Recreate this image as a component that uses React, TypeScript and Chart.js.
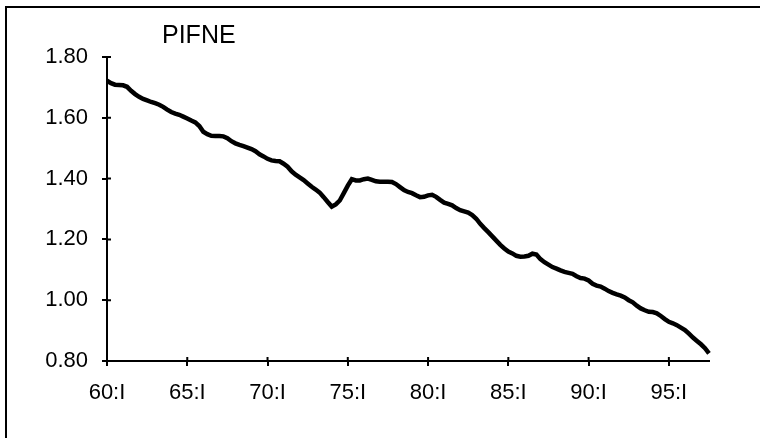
import React, { useEffect, useRef } from "react";
import { Chart, registerables } from "chart.js";

Chart.register(...registerables);

const TITLE = "PIFNE";
const quarterNames = ["I", "II", "III", "IV"];
const firstYear = 60;
const lastYear = 97;
const categories: string[] = [];
for (let y = firstYear; y <= lastYear; y++) {
  for (const q of quarterNames) categories.push(`${y}:${q}`);
}
const pifne: number[] = [
  1.722, 1.714, 1.709, 1.708, 1.707, 1.702, 1.689, 1.678, 1.669, 1.662,
  1.657, 1.652, 1.648, 1.643, 1.636, 1.627, 1.619, 1.614, 1.610, 1.604,
  1.598, 1.591, 1.585, 1.573, 1.554, 1.546, 1.541, 1.540, 1.540, 1.539,
  1.533, 1.523, 1.516, 1.511, 1.507, 1.502, 1.497, 1.490, 1.480, 1.473,
  1.465, 1.460, 1.458, 1.457, 1.449, 1.439, 1.424, 1.413, 1.404, 1.395,
  1.384, 1.373, 1.364, 1.354, 1.339, 1.323, 1.308, 1.315, 1.328, 1.352,
  1.377, 1.398, 1.394, 1.394, 1.398, 1.400, 1.396, 1.391, 1.390, 1.390,
  1.390, 1.389, 1.382, 1.372, 1.362, 1.356, 1.352, 1.345, 1.339, 1.340,
  1.345, 1.347, 1.340, 1.330, 1.321, 1.317, 1.312, 1.303, 1.296, 1.292,
  1.288, 1.280, 1.268, 1.251, 1.237, 1.224, 1.210, 1.196, 1.182, 1.170,
  1.160, 1.154, 1.146, 1.143, 1.144, 1.146, 1.153, 1.150, 1.135, 1.125,
  1.117, 1.109, 1.104, 1.098, 1.093, 1.090, 1.087, 1.079, 1.073, 1.071,
  1.065, 1.054, 1.048, 1.045, 1.038, 1.030, 1.024, 1.019, 1.015, 1.009,
  1.000, 0.993, 0.982, 0.973, 0.967, 0.962, 0.961, 0.957, 0.948, 0.938,
  0.929, 0.924, 0.918, 0.910, 0.902, 0.890, 0.877, 0.866, 0.855, 0.842,
  0.825,
];
const labels = categories.slice(0, pifne.length);
const xTickLabels = ["60:I", "65:I", "70:I", "75:I", "80:I", "85:I", "90:I", "95:I"];
const yMin = 0.8;
const yMax = 1.8;
const yStep = 0.2;

const FONT = "Arial, 'Liberation Sans', Helvetica, sans-serif";

const decorPlugin = {
  id: "decor",
  beforeDraw(chart: any) {
    const ctx = chart.ctx;
    ctx.save();
    ctx.strokeStyle = "#000";
    ctx.lineWidth = 2;
    ctx.beginPath();
    ctx.moveTo(6, 1000);
    ctx.lineTo(6, 7);
    ctx.lineTo(1000, 7);
    ctx.stroke();
    ctx.restore();
  },
  afterDraw(chart: any) {
    const ctx = chart.ctx;
    const { left, bottom, top } = chart.chartArea;
    const xs = chart.scales.x;
    const ys = chart.scales.y;
    ctx.save();
    ctx.strokeStyle = "#000";
    ctx.lineWidth = 2;
    ctx.beginPath();
    ys.ticks.forEach((t: any) => {
      const py = ys.getPixelForValue(t.value);
      ctx.moveTo(left, py);
      ctx.lineTo(left + 4, py);
    });
    xTickLabels.forEach((lab) => {
      const idx = labels.indexOf(lab);
      if (idx < 0) return;
      const px = xs.getPixelForValue(idx);
      ctx.moveTo(px, bottom);
      ctx.lineTo(px, bottom - 4);
    });
    ctx.stroke();
    ctx.fillStyle = "#000";
    ctx.font = `25px ${FONT}`;
    ctx.textAlign = "left";
    ctx.textBaseline = "middle";
    ctx.fillText(TITLE, left + 55, top - 21);
    ctx.restore();
  },
};

export default function App() {
  const ref = useRef<HTMLCanvasElement | null>(null);
  useEffect(() => {
    document.body.style.margin = "0";
    const canvas = ref.current!;
    const chart = new Chart(canvas, {
      type: "line",
      data: {
        labels,
        datasets: [
          {
            label: TITLE,
            data: pifne,
            borderColor: "#000",
            backgroundColor: "#000",
            borderWidth: 4.5,
            pointRadius: 0,
            tension: 0,
            fill: false,
          },
        ],
      },
      options: {
        animation: false,
        responsive: false,
        maintainAspectRatio: false,
        events: [],
        layout: { padding: { left: 0, top: 57, right: 51, bottom: 0 } },
        plugins: {
          legend: { display: false },
          tooltip: { enabled: false },
          title: { display: false },
        },
        scales: {
          x: {
            type: "category",
            offset: false,
            border: { display: true, color: "#000", width: 2 },
            grid: {
              display: true,
              drawOnChartArea: false,
              drawTicks: true,
              tickLength: 5,
              color: "#000",
              lineWidth: 2,
            },
            ticks: {
              autoSkip: false,
              maxRotation: 0,
              minRotation: 0,
              padding: 14,
              color: "#000",
              font: { family: FONT, size: 22 },
              callback: (_v: any, i: number) =>
                xTickLabels.includes(labels[i]) ? labels[i] : null,
            },
            afterFit: (s: any) => {
              s.height = 77;
            },
          },
          y: {
            min: yMin,
            max: yMax,
            border: { display: true, color: "#000", width: 2 },
            grid: {
              display: true,
              drawOnChartArea: false,
              drawTicks: true,
              tickLength: 5,
              color: "#000",
              lineWidth: 2,
            },
            ticks: {
              stepSize: yStep,
              padding: 14,
              color: "#000",
              font: { family: FONT, size: 22 },
              callback: (v: any) => Number(v).toFixed(2),
            },
            afterFit: (s: any) => {
              s.width = 107;
            },
          },
        },
      },
      plugins: [decorPlugin],
    });
    return () => chart.destroy();
  }, []);
  return (
    <div style={{ width: 760, height: 438, background: "#fff" }}>
      <canvas ref={ref} width={760} height={438} style={{ display: "block" }} />
    </div>
  );
}
